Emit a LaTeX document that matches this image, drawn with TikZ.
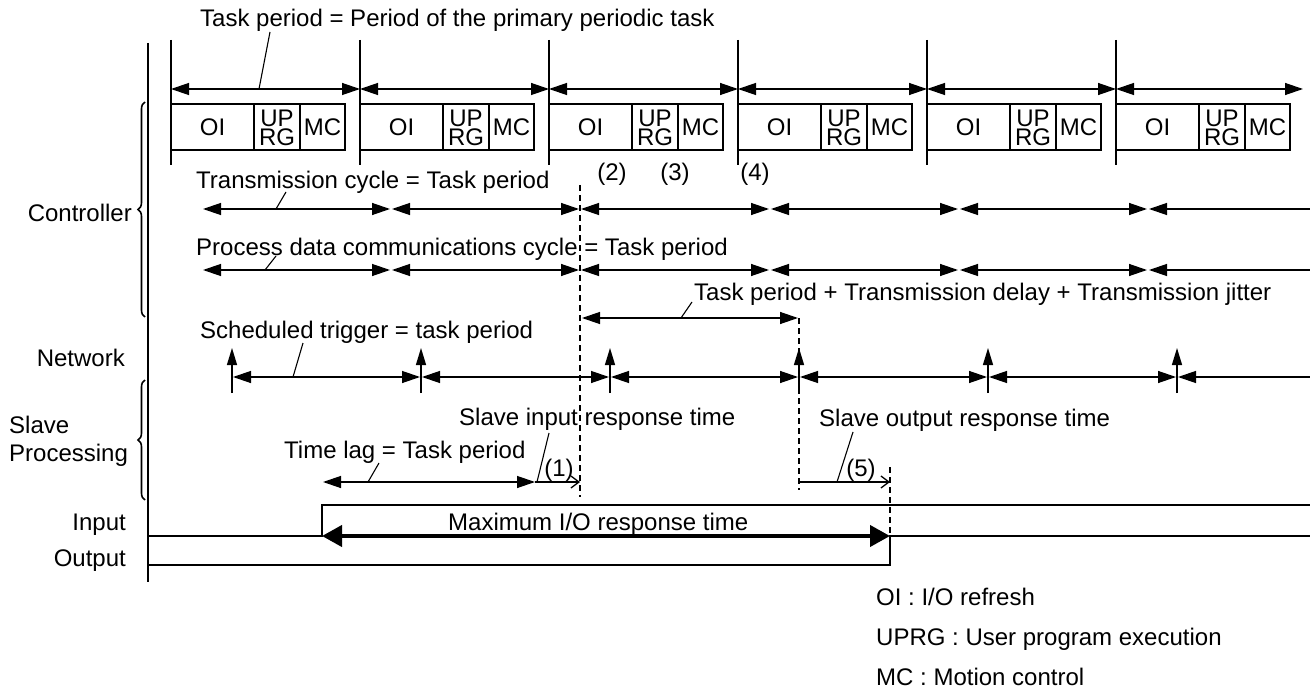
\documentclass[tikz,border=0pt]{standalone}
\usepackage{fontspec}
\setmainfont{Liberation Sans}
\usetikzlibrary{arrows.meta,decorations.pathreplacing}
\begin{document}
\begin{tikzpicture}[x=1pt,y=-1pt,
  lw/.style={line width=1.3pt},
  txt/.style={font=\fontsize{24}{24}\selectfont, inner sep=0pt, text height=17pt, text depth=0pt},
  stk/.style={font=\fontsize{24}{19.5}\selectfont, inner sep=0pt, align=center},
  dbl/.style={lw, {Triangle[length=18pt,width=12pt]}-{Triangle[length=18pt,width=12pt]}},
  lft/.style={lw, {Triangle[length=18pt,width=12pt]}-},
  trig/.style={lw, -{Triangle[length=17pt,width=10pt]}},
  dsh/.style={line width=1.1pt, dash pattern=on 6pt off 4pt},
  ldr/.style={line width=1.1pt},
  bigarrow/.style={line width=4pt, {Triangle[length=20pt,width=21pt]}-{Triangle[length=20pt,width=21pt]}},
  barb/.style={lw, -{Straight Barb[length=8pt,width=12pt]}},
  brc/.style={line width=1.6pt, decorate, decoration={brace, amplitude=7pt}}
]
\useasboundingbox (0,0) rectangle (1310,690);

% main time axis
\coordinate (axtop) at (148,43);
\coordinate (axbot) at (148,582);
\draw[lw] (axtop) -- (axbot);

% braces
\draw[brc] (145,317) -- (145,102);
\draw[brc] (145,500) -- (145,380);

% left labels
\node[txt, anchor=east] (controller) at (132,213) {Controller};
\node[txt, anchor=east] (network) at (125,358) {Network};
\node[txt, anchor=west] (slave) at (9,425) {Slave};
\node[txt, anchor=west] (processing) at (9,453) {Processing};
\node[txt, anchor=east] (input) at (126,522) {Input};
\node[txt, anchor=east] (output) at (126,558) {Output};

% task period row
\foreach \i in {0,...,5} {
  \pgfmathsetmacro\t{171+189*\i}
  \draw[lw] (\t,40) -- (\t,165);
  \draw[lw] (\t,104) rectangle (\t+174,150);
  \draw[lw] (\t+83,104) -- (\t+83,150);
  \draw[lw] (\t+129,104) -- (\t+129,150);
  \node[txt] (oi\i) at (\t+41.5,127) {OI};
  \node[stk] (uprg\i) at (\t+106,128) {UP\\RG};
  \node[txt] (mc\i) at (\t+151.5,127) {MC};
}
\foreach \i in {0,...,4} {
  \pgfmathsetmacro\t{171+189*\i}
  \draw[dbl] (\t,89) -- (\t+189,89);
}
\draw[dbl] (1116,89) -- (1303,89);

\node[txt, anchor=west] (taskp) at (200,18) {Task period = Period of the primary periodic task};
\draw[ldr] (270,32) -- (259,89);

\node[txt] (n2) at (612,172) {(2)};
\node[txt] (n3) at (675,172) {(3)};
\node[txt] (n4) at (755,172) {(4)};

% transmission / process data rows
\foreach \a/\b in {202/391,391/580,580/770,770/959,959/1148} {
  \draw[dbl] (\a+1,209) -- (\b-1,209);
  \draw[dbl] (\a+1,270) -- (\b-1,270);
}
\draw[lft] (1149,209) -- (1310,209);
\draw[lft] (1149,270) -- (1310,270);

\node[txt, anchor=west] (trans) at (196,180) {Transmission cycle = Task period};
\draw[ldr] (286,192) -- (276,209);
\node[txt, anchor=west] (proc) at (196,247) {Process data communications cycle = Task period};
\draw[ldr] (276,256) -- (265,270);

% task period + delay
\node[txt, anchor=west] (tpd) at (694,292) {Task period + Transmission delay + Transmission jitter};
\draw[dbl] (582,318) -- (798,318);
\draw[ldr] (692,302) -- (681,318);

% dashed lines
\draw[dsh] (580,185) -- (580,497);
\draw[dsh] (799,318) -- (799,490);
\draw[dsh] (890,467) -- (890,536);

% network row
\foreach \i in {0,...,5} {
  \pgfmathsetmacro\t{232+189*\i}
  \draw[trig] (\t,393) -- (\t,348);
}
\foreach \i in {0,...,4} {
  \pgfmathsetmacro\t{232+189*\i}
  \draw[dbl] (\t+1,377) -- (\t+188,377);
}
\draw[lft] (1178,377) -- (1310,377);
\node[txt, anchor=west] (sched) at (200,330) {Scheduled trigger = task period};
\draw[ldr] (303,343) -- (293,377);

% slave processing
\node[txt, anchor=west] (sin) at (459,417) {Slave input response time};
\node[txt, anchor=west] (lag) at (284,450) {Time lag = Task period};
\draw[dbl] (323,482) -- (535,482);
\draw[barb] (535,482) -- (580,482);
\draw[ldr] (379,463) -- (368,482);
\draw[ldr] (549,433) -- (537,482);
\node[txt] (n1) at (559,468) {(1)};

\node[txt, anchor=west] (sout) at (819,418) {Slave output response time};
\draw[barb] (799,482) -- (890,482);
\draw[ldr] (853,432) -- (837,482);
\node[txt] (n5) at (861,468) {(5)};

% input / output
\draw[lw] (148,536) -- (322,536) -- (322,505) -- (1310,505);
\draw[lw] (148,565) -- (890,565) -- (890,536) -- (1310,536);
\draw[bigarrow] (322,536) -- (890,536);
\node[txt, anchor=west] (maxio) at (448,522) {Maximum I/O response time};

% legend
\node[txt, anchor=west] (lg1) at (876,597) {OI : I/O refresh};
\node[txt, anchor=west] (lg2) at (876,637) {UPRG : User program execution};
\node[txt, anchor=west] (lg3) at (876,677) {MC : Motion control};
\end{tikzpicture}
\end{document}
